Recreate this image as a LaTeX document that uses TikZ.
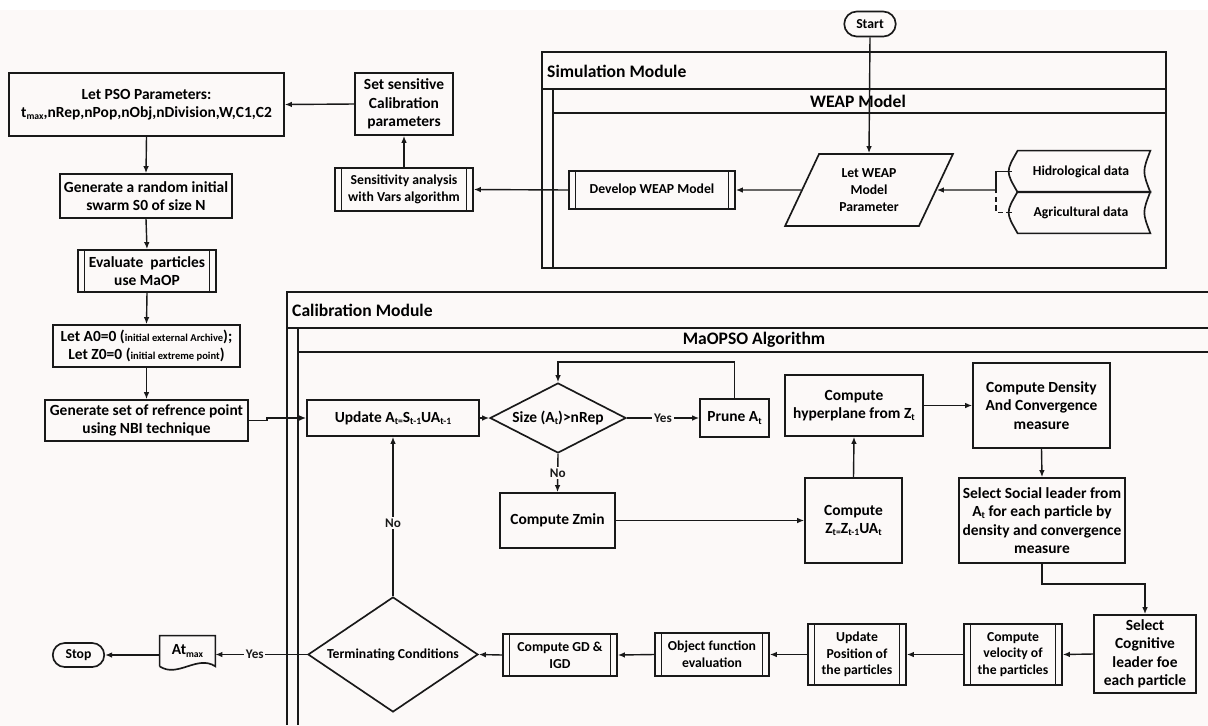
\documentclass[tikz,border=0pt]{standalone}
\usepackage{fontspec}
\setmainfont{Carlito}
\usetikzlibrary{shapes.geometric,shapes.misc,arrows.meta}

\definecolor{bgpink}{RGB}{247,235,234}
\definecolor{bglight}{RGB}{252,249,248}
\definecolor{ink}{RGB}{25,25,25}

% small lowered text for indices
\newcommand{\sbt}[1]{\raisebox{-0.3ex}{\fontsize{5.5}{6}\selectfont #1}}
\newcommand{\smalltxt}[1]{{\fontsize{6}{7}\selectfont #1}}

\begin{document}
\begin{tikzpicture}[
    x=0.2mm, y=-0.2mm,
    fb/.style={font=\bfseries\fontsize{8.8}{10.5}\selectfont},
    fs/.style={font=\bfseries\fontsize{7.8}{9.5}\selectfont},
    box/.style={rectangle, draw=ink, line width=0.95pt, align=center, inner sep=1pt, fb},
    sub/.style={box, path picture={
        \draw[ink, line width=0.9pt]
          ([xshift=0.13cm]path picture bounding box.north west) -- ([xshift=0.13cm]path picture bounding box.south west)
          ([xshift=-0.13cm]path picture bounding box.north east) -- ([xshift=-0.13cm]path picture bounding box.south east);}},
    term/.style={rounded rectangle, draw=ink, line width=0.95pt, inner sep=1pt, fs},
    dec/.style={diamond, draw=ink, line width=0.95pt, inner sep=0pt, align=center, fb},
    io/.style={trapezium, trapezium left angle=65, trapezium right angle=115, trapezium stretches=true,
        draw=ink, line width=0.95pt, align=center, inner sep=1pt, fs},
    lane/.style={draw=ink, line width=1pt},
    arr/.style={-{Latex[length=4pt,width=3.2pt]}, ink, line width=0.8pt},
    lbl/.style={fill=bglight, inner sep=1pt, font=\bfseries\fontsize{7.5}{9}\selectfont}
]
    % Background
    \shade[left color=bglight, middle color=bgpink, right color=bglight] (0,0) rectangle (1208,725);
    \fill[white] (0,0) rectangle (1208,10);
    \useasboundingbox (0,0) rectangle (1208,725);

    % Simulation Module
    \draw[lane] (542,52) rectangle (1166,268);
    \draw[lane] (542,89) -- (1166,89);
    \draw[lane] (553,89) -- (553,268);
    \draw[lane] (553,113) -- (1166,113);
    \node[anchor=west, font=\bfseries\fontsize{10}{12}\selectfont] (simlbl) at (541,71) {Simulation Module};
    \node[font=\bfseries\fontsize{10}{12}\selectfont] (weaplbl) at (858,101) {WEAP Model};

    % Calibration Module
    \draw[lane] (1208,292) -- (287,292) -- (287,725);
    \draw[lane] (287,328) -- (1208,328);
    \draw[lane] (298,328) -- (298,725);
    \draw[lane] (298,352) -- (1208,352);
    \node[anchor=west, font=\bfseries\fontsize{10}{12}\selectfont] (callbl) at (286,310) {Calibration Module};
    \node[font=\bfseries\fontsize{10}{12}\selectfont] (algolbl) at (754,340) {MaOPSO Algorithm};

    % WEAP part
    \node[term, minimum width=1.1cm, minimum height=0.5cm] (start) at (870,24) {Start};
    \node[io, minimum width=3.36cm, minimum height=1.44cm] (wp) at (869,190) {Let WEAP\\Model\\Parameter};
    \node[fs, minimum width=2.76cm, minimum height=0.82cm] (hyd) at (1081,171.5) {Hidrological data};
    \node[fs, minimum width=2.76cm, minimum height=0.82cm] (agr) at (1081,212.5) {Agricultural data};
    \foreach \d in {hyd,agr}
        \draw[ink, line width=0.95pt] ([xshift=0.12cm]\d.north west) -- (\d.north east)
            .. controls ([xshift=-0.16cm]\d.east) .. (\d.south east)
            -- ([xshift=0.12cm]\d.south west) .. controls ([xshift=-0.12cm]\d.west) .. cycle;
    \node[sub, fs, minimum width=3.32cm, minimum height=0.76cm] (dev) at (652,190) {Develop WEAP Model};
    \node[sub, fs, minimum width=2.76cm, minimum height=0.86cm] (sens) at (404,189.5) {Sensitivity analysis\\with Vars algorithm};
    \node[box, minimum width=1.96cm, minimum height=1.24cm] (setcal) at (404,104) {Set sensitive\\Calibration\\parameters};

    % PSO setup
    \node[box, minimum width=5.5cm, minimum height=1.26cm] (pso) at (146.5,104.5) {Let PSO Parameters:\\t\sbt{max},nRep,nPop,nObj,nDivision,W,C1,C2};
    \node[box, minimum width=3.44cm, minimum height=0.88cm] (gen) at (146,196) {Generate a random initial\\swarm S0 of size N};
    \node[sub, minimum width=2.76cm, minimum height=0.84cm] (eval) at (147,271) {Evaluate~ particles\\use MaOP};
    \node[box, minimum width=3.74cm, minimum height=0.84cm] (init) at (146.5,346) {Let A0=0 (\smalltxt{initial external Archive});\\Let Z0=0 (\smalltxt{initial extreme point})};
    \node[box, minimum width=4.06cm, minimum height=0.82cm] (ref) at (146.5,420.5) {Generate set of refrence point\\using NBI technique};

    % MaOPSO loop
    \node[box, minimum width=3.44cm, minimum height=0.72cm] (upd) at (393,418) {Update A\sbt{t=}S\sbt{t-1}UA\sbt{t-1}};
    \node[dec, minimum width=2.72cm, minimum height=1.4cm, aspect=1.94] (size) at (558,418) {Size (A\sbt{t})>nRep};
    \node[box, minimum width=1.38cm, minimum height=0.76cm] (prune) at (734.5,418) {Prune A\sbt{t}};
    \node[box, minimum width=2.3cm, minimum height=1.1cm] (zmin) at (557.5,520.5) {Compute Zmin};
    \node[box, minimum width=1.94cm, minimum height=1.7cm] (zt) at (853.5,520.5) {Compute\\Z\sbt{t=}Z\sbt{t-1}UA\sbt{t}};
    \node[box, minimum width=2.76cm, minimum height=1.22cm] (hyp) at (854,405.5) {Compute\\hyperplane from Z\sbt{t}};
    \node[box, minimum width=2.74cm, minimum height=1.7cm] (dens) at (1041.5,405.5) {Compute Density\\And Convergence\\measure};
    \node[box, minimum width=3.32cm, minimum height=1.7cm] (social) at (1042,520.5) {Select Social leader from\\A\sbt{t} for each particle by\\density and convergence\\measure};
    \node[box, minimum width=2.04cm, minimum height=1.56cm] (cog) at (1145,654) {Select\\Cognitive\\leader foe\\each particle};
    \node[sub, fs, minimum width=1.96cm, minimum height=1.22cm] (vel) at (1013,654.5) {Compute\\velocity of\\the particles};
    \node[sub, fs, minimum width=1.96cm, minimum height=1.22cm] (pos) at (857,654.5) {Update\\Position of\\the particles};
    \node[sub, fs, minimum width=2.28cm, minimum height=0.86cm] (obj) at (712,654.5) {Object function\\evaluation};
    \node[sub, fs, minimum width=2.28cm, minimum height=0.84cm] (gd) at (560,655) {Compute GD \&\\IGD};
    \node[dec, fs, minimum width=3.4cm, minimum height=2.3cm, aspect=1.48] (termc) at (393,654.5) {Terminating Conditions};

    % Output
    \node[fb, minimum width=1.1cm, minimum height=0.6cm, inner sep=0pt] (atmax) at (187.5,651) {At\sbt{max}};
    \draw[ink, line width=0.95pt] (atmax.south west) -- (atmax.north west) -- (atmax.north east) -- (atmax.south east)
        .. controls +(-0.36cm,0.24cm) and +(0.36cm,-0.24cm) .. (atmax.south west);
    \node[term, minimum width=1.1cm, minimum height=0.48cm] (stop) at (78.5,655) {Stop};

    % Arrows
    \draw[arr] (start.south) -- (wp.north);
    \coordinate (jn) at (996,190);
    \draw[ink, line width=0.8pt] (hyd.west) -| (jn);
    \draw[ink, line width=0.8pt, densely dashed] (agr.west) -| (jn);
    \draw[arr] (jn) -- (wp.east);
    \draw[arr] (wp.west) -- (dev.east);
    \draw[arr] (dev.west) -- (sens.east);
    \draw[arr] (sens.north) -- (setcal.south);
    \draw[arr] (setcal.west) -- (pso.east);

    \draw[arr] (pso.south) -- (gen.north);
    \draw[arr] (gen.south) -- (eval.north);
    \draw[arr] (eval.south) -- (init.north);
    \draw[arr] (init.south) -- (ref.north);
    \draw[arr] (ref.east) -- ++(18,0) |- (upd.west);

    \draw[arr] (upd.east) -- (size.west);
    \draw[arr] (size.east) -- (prune.west) node[lbl, midway] {Yes};
    \draw[arr] (prune.north) -- ++(0,-36) -| (size.north);
    \draw[arr] (size.south) -- (zmin.north) node[lbl, midway] {No};
    \draw[arr] (zmin.east) -- (zt.west);
    \draw[arr] (zt.north) -- (hyp.south);
    \draw[arr] (hyp.east) -- (dens.west);
    \draw[arr] (dens.south) -- (social.north);
    \draw[arr] (social.south) -- ++(0,20) -| (cog.north);

    \draw[arr] (cog.west) -- (vel.east);
    \draw[arr] (vel.west) -- (pos.east);
    \draw[arr] (pos.west) -- (obj.east);
    \draw[arr] (obj.west) -- (gd.east);
    \draw[arr] (gd.west) -- (termc.east);
    \draw[arr] (termc.north) -- (upd.south) node[lbl, pos=0.46] {No};
    \draw[arr] (termc.west) -- (termc.west -| atmax.east) node[lbl, pos=0.57] {Yes};
    \draw[arr] (stop.east -| atmax.west) -- (stop.east);
\end{tikzpicture}
\end{document}
